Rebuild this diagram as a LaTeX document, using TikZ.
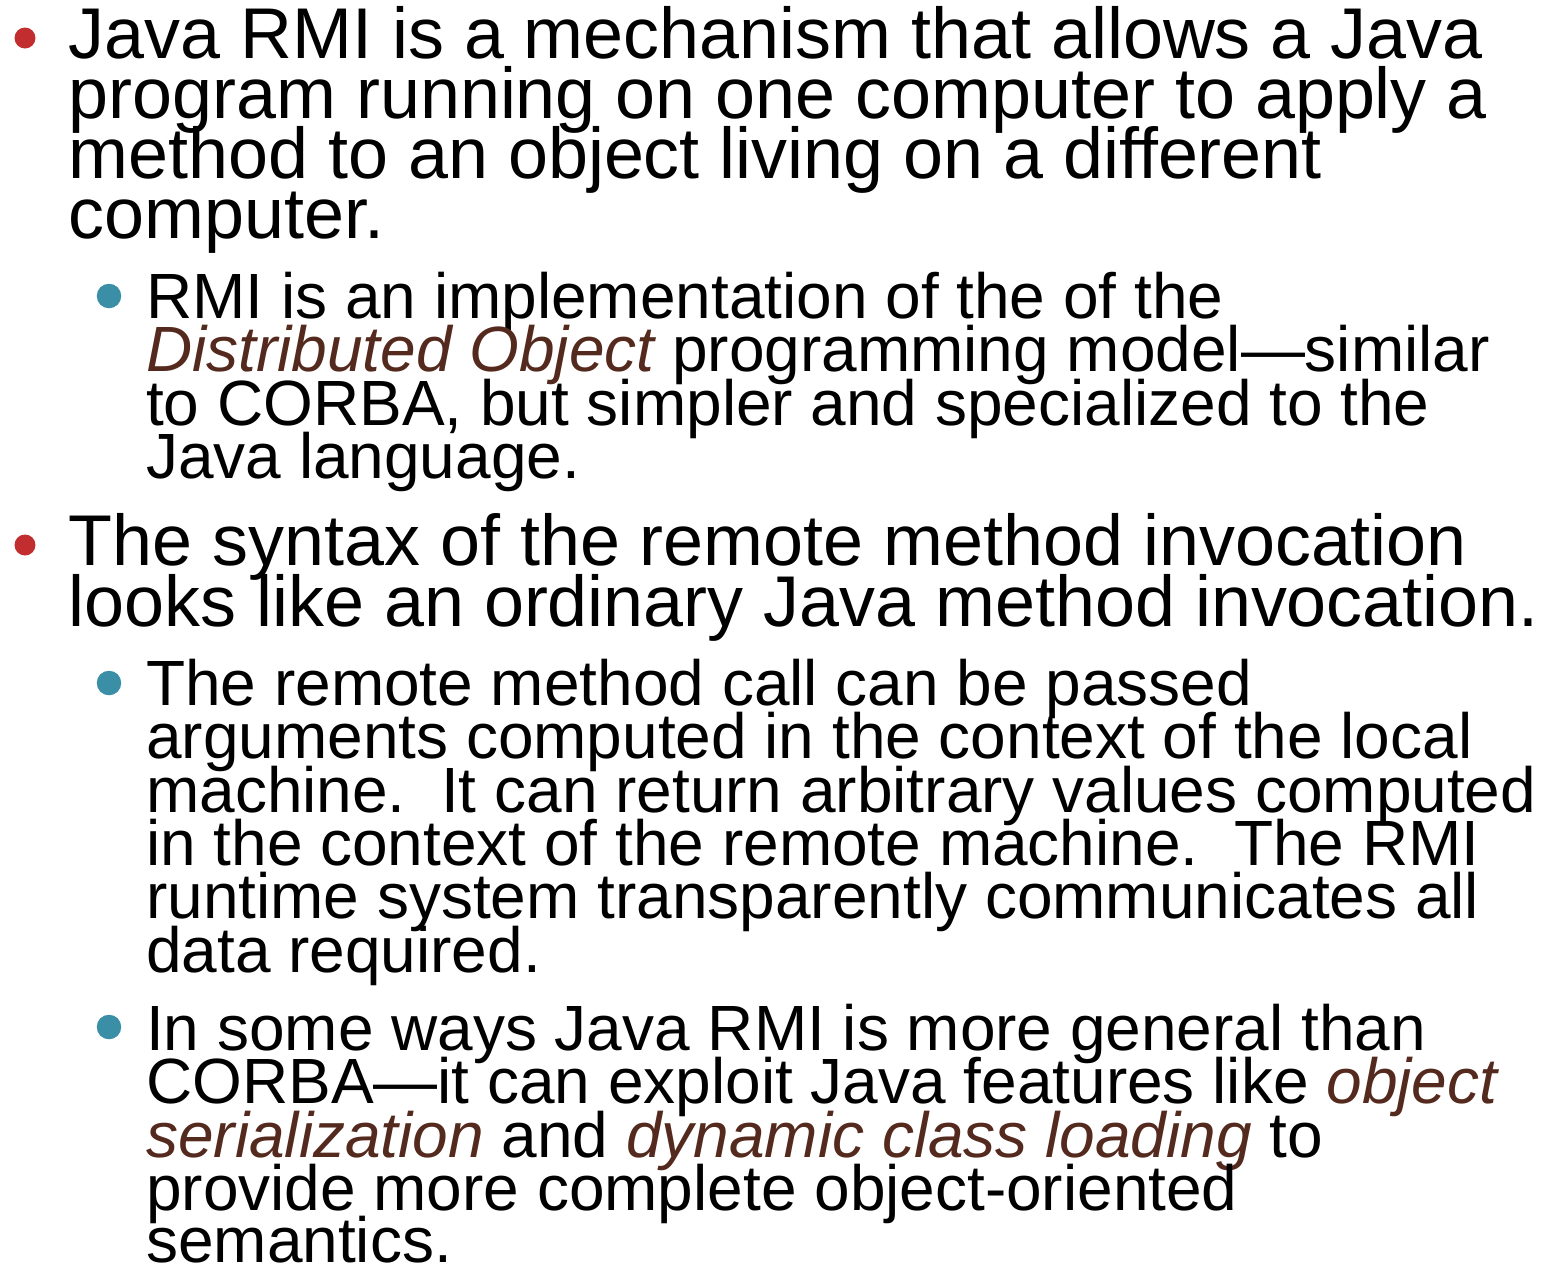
\documentclass[tikz,border=0pt]{standalone}
\usepackage{fontspec}
\setmainfont{Liberation Sans}
\frenchspacing

\definecolor{dotred}{RGB}{194,46,48}
\definecolor{dotteal}{RGB}{58,143,166}
\definecolor{termbrown}{RGB}{84,42,30}

% key terms in the slide text
\newcommand{\term}[1]{\textcolor{termbrown}{\itshape #1}}

\tikzset{
  toptext/.style={anchor=base west, inner sep=0pt, font=\fontsize{20.45}{20}\selectfont},
  subtext/.style={anchor=base west, inner sep=0pt, font=\fontsize{18.2}{18}\selectfont},
  topdot/.style={circle, fill=dotred, inner sep=0pt, minimum size=0.21cm},
  subdot/.style={circle, fill=dotteal, inner sep=0pt, minimum size=0.245cm},
}

\begin{document}
\begin{tikzpicture}
\useasboundingbox (0,0) rectangle (15.55,-12.67);

% first point
\node[topdot] (dotA) at (0.25, -0.38) {};
\node[toptext] (a1) at (0.68, -0.58) {Java RMI is a mechanism that allows a Java};
\node[toptext] (a2) at (0.68, -1.18) {program running on one computer to apply a};
\node[toptext] (a3) at (0.68, -1.78) {method to an object living on a different};
\node[toptext] (a4) at (0.68, -2.38) {computer.};

\node[subdot] (dotAA) at (1.09, -2.96) {};
\node[subtext] (aa1) at (1.455, -3.18) {RMI is an implementation of the of the};
\node[subtext] (aa2) at (1.455, -3.715) {\term{Distributed Object} programming model—similar};
\node[subtext] (aa3) at (1.455, -4.25) {to CORBA, but simpler and specialized to the};
\node[subtext] (aa4) at (1.455, -4.78) {Java language.};

% second point
\node[topdot] (dotB) at (0.25, -5.45) {};
\node[toptext] (b1) at (0.68, -5.65) {The syntax of the remote method invocation};
\node[toptext] (b2) at (0.68, -6.26) {looks like an ordinary Java method invocation.};

\node[subdot] (dotBA) at (1.09, -6.83) {};
\node[subtext] (ba1) at (1.455, -7.05) {The remote method call can be passed};
\node[subtext] (ba2) at (1.455, -7.58) {arguments computed in the context of the local};
\node[subtext] (ba3) at (1.455, -8.12) {machine.\ \ It can return arbitrary values computed};
\node[subtext] (ba4) at (1.455, -8.65) {in the context of the remote machine.\ \ The RMI};
\node[subtext] (ba5) at (1.455, -9.18) {runtime system transparently communicates all};
\node[subtext] (ba6) at (1.455, -9.72) {data required.};

\node[subdot] (dotBB) at (1.09, -10.27) {};
\node[subtext] (bb1) at (1.455, -10.50) {In some ways Java RMI is more general than};
\node[subtext] (bb2) at (1.455, -11.03) {CORBA—it can exploit Java features like \term{object}};
\node[subtext] (bb3) at (1.455, -11.57) {\term{serialization} and \term{dynamic class loading} to};
\node[subtext] (bb4) at (1.455, -12.10) {provide more complete object-oriented};
\node[subtext] (bb5) at (1.455, -12.62) {semantics.};
\end{tikzpicture}
\end{document}
